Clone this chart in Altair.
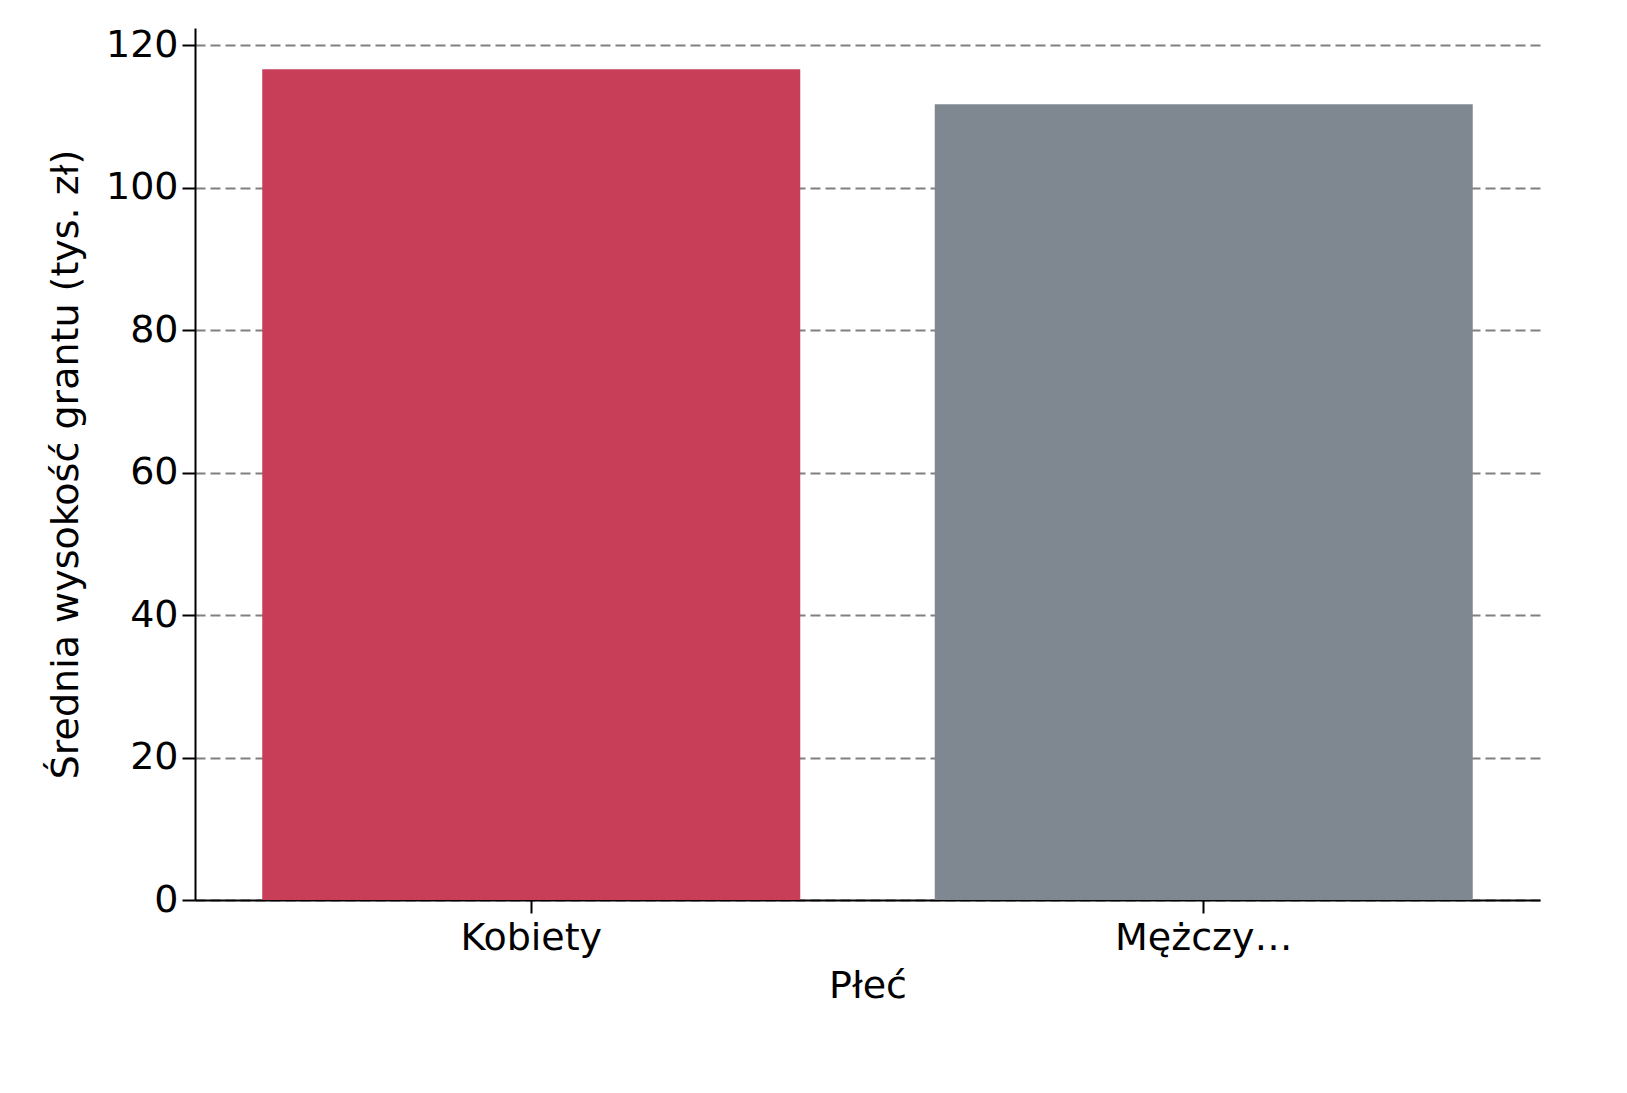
import altair as alt
import pandas as pd

categories = ["Kobiety", "Mężczyźni"]
values = [116.6, 111.7]
colors = ["#C83D57", "#7F8891"]

df = pd.DataFrame({"plec": categories, "wartosc": values})

chart = alt.Chart(df).mark_bar().encode(
    x=alt.X("plec:N", title="Płeć", sort=categories,
            scale=alt.Scale(paddingInner=0.2, paddingOuter=0.1),
            axis=alt.Axis(labelAngle=0, labelPadding=6, titlePadding=10)),
    y=alt.Y("wartosc:Q", title="Średnia wysokość grantu (tys. zł)",
            scale=alt.Scale(domain=[0, 122.4], nice=False),
            axis=alt.Axis(values=[0, 20, 40, 60, 80, 100, 120], grid=True,
                          gridDash=[10, 5], gridColor="#808080", gridWidth=2,
                          labelPadding=4, titlePadding=20)),
    color=alt.Color("plec:N", scale=alt.Scale(domain=categories, range=colors), legend=None),
).properties(
    width=1345, height=872,
    autosize=alt.AutoSizeParams(type="none"),
    padding={"left": 187, "top": 20, "right": 20, "bottom": 150},
).configure_view(stroke=None).configure_axis(
    labelFont="DejaVu Sans", titleFont="DejaVu Sans",
    labelFontSize=38, titleFontSize=38, titleFontWeight="normal",
    labelColor="black", titleColor="black",
    domainColor="black", domainWidth=2, tickColor="black", tickWidth=2, tickSize=13,
)

chart.save("out.html", embed_options={"renderer": "svg", "actions": False})
